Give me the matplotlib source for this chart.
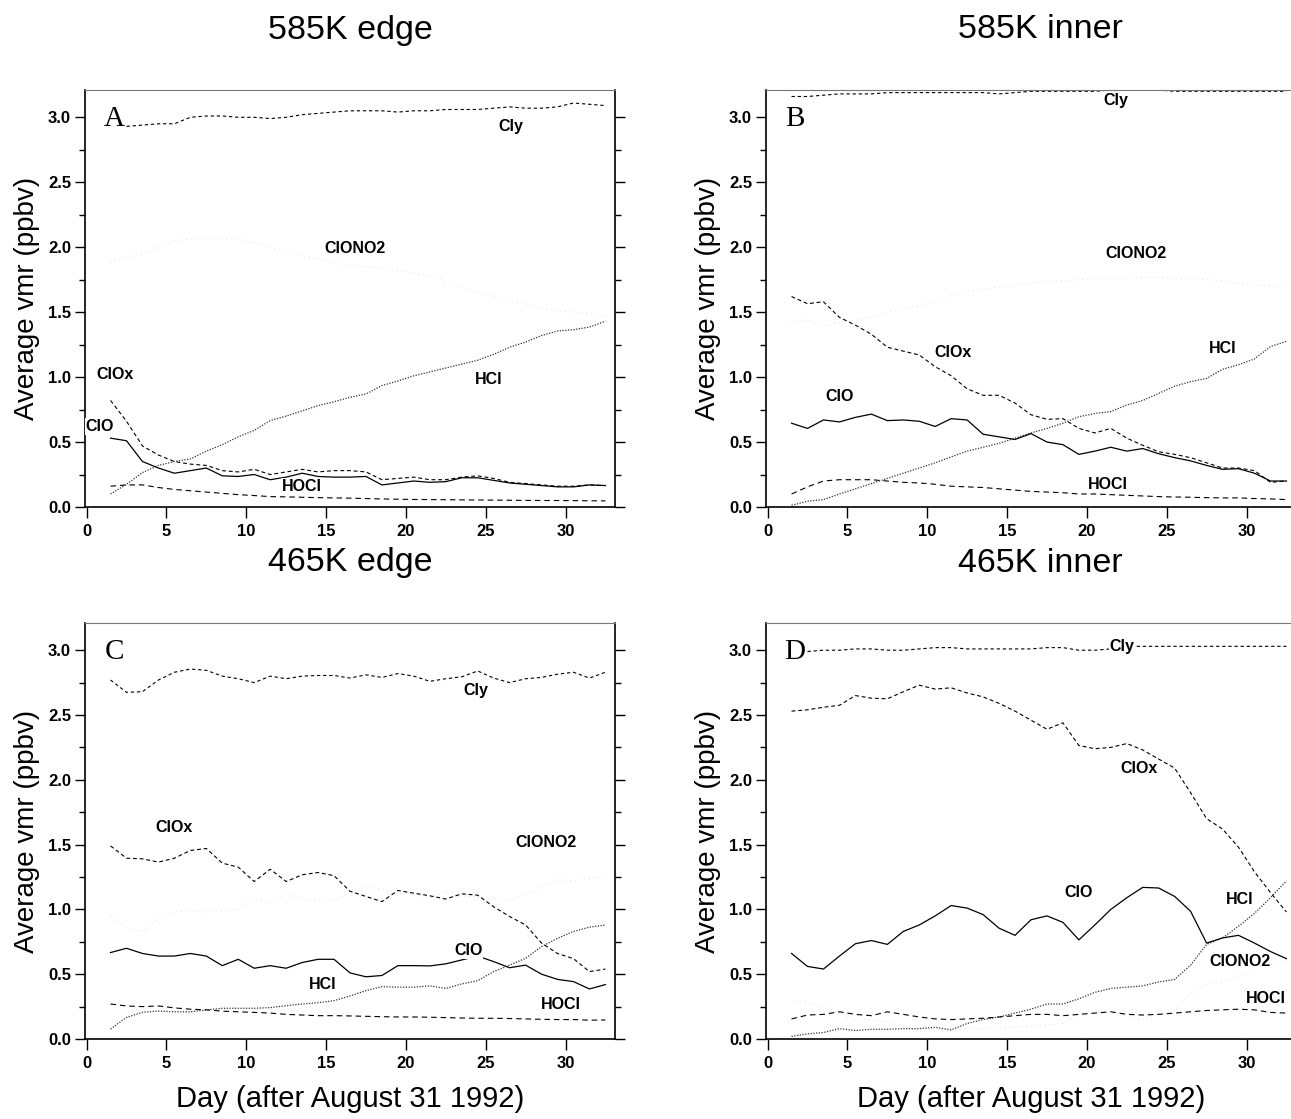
import numpy as np
import matplotlib.pyplot as plt

plt.rcParams['font.family'] = ['Liberation Sans', 'DejaVu Sans']

# days after Aug 31 1992, one value per day
days = np.arange(1.5, 33.0, 1.0)
nan = np.nan

# panel A: 585K edge
a_cly = [nan, 2.93, 2.94, 2.95, 2.95, 3.00, 3.01, 3.01, 3.00, 3.00, 2.99, 3.00, 3.02, 3.03, 3.04, 3.05,
         3.05, 3.05, 3.04, 3.05, 3.05, 3.06, 3.06, 3.06, 3.07, 3.08, 3.07, 3.07, 3.08, 3.11, 3.10, 3.09]
a_clono2 = [1.88, 1.92, 1.95, 2.00, 2.05, 2.06, 2.07, 2.07, 2.06, 2.03, 2.00, 1.97, 1.93, 1.91, 1.88, 1.86,
            1.85, 1.84, 1.82, 1.80, 1.78, 1.74, 1.69, 1.65, 1.62, 1.59, 1.56, 1.53, 1.51, 1.50, 1.49, 1.47]
a_clox = [0.82, 0.66, 0.47, 0.40, 0.35, 0.33, 0.32, 0.28, 0.27, 0.29, 0.25, 0.27, 0.29, 0.27, 0.28, 0.28,
          0.27, 0.21, 0.22, 0.23, 0.21, 0.21, 0.23, 0.24, 0.22, 0.19, 0.18, 0.17, 0.16, 0.16, 0.17, 0.165]
a_clo = [0.53, 0.51, 0.35, 0.30, 0.26, 0.28, 0.30, 0.24, 0.235, 0.25, 0.21, 0.23, 0.26, 0.235, 0.23, 0.23,
         0.235, 0.17, 0.185, 0.20, 0.19, 0.195, 0.225, 0.225, 0.205, 0.185, 0.175, 0.165, 0.155, 0.155, 0.17, 0.165]
a_hcl = [0.10, 0.175, 0.265, 0.32, 0.35, 0.37, 0.43, 0.48, 0.54, 0.59, 0.665, 0.70, 0.74, 0.78, 0.81, 0.845,
         0.87, 0.935, 0.97, 1.01, 1.04, 1.07, 1.10, 1.13, 1.175, 1.23, 1.27, 1.32, 1.355, 1.365, 1.385, 1.43]
a_hocl = [0.16, 0.17, 0.17, 0.15, 0.135, 0.125, 0.115, 0.105, 0.095, 0.088, 0.08, 0.078, 0.075, 0.072, 0.07, 0.068,
          0.065, 0.062, 0.06, 0.058, 0.057, 0.056, 0.055, 0.054, 0.053, 0.052, 0.051, 0.05, 0.05, 0.049, 0.048, 0.047]

# panel B: 585K inner
b_cly = [3.16, 3.16, 3.17, 3.18, 3.18, 3.18, 3.19, 3.19, 3.19, 3.19, 3.19, 3.19, 3.19, 3.18, 3.19, 3.20,
         3.20, 3.20, 3.20, 3.20, 3.21, 3.21, 3.21, 3.21, 3.20, 3.20, 3.20, 3.20, 3.20, 3.20, 3.20, 3.20]
b_clono2 = [1.43, 1.44, 1.39, 1.42, 1.44, 1.46, 1.50, 1.53, 1.55, 1.59, 1.63, 1.66, 1.68, 1.69, 1.71, 1.72,
            1.74, 1.74, 1.75, 1.76, 1.76, 1.76, 1.77, 1.77, 1.76, 1.76, 1.75, 1.74, 1.72, 1.71, 1.70, 1.69]
b_clox = [1.62, 1.565, 1.58, 1.46, 1.40, 1.33, 1.23, 1.20, 1.17, 1.08, 1.01, 0.91, 0.86, 0.86, 0.80, 0.71,
          0.675, 0.68, 0.605, 0.57, 0.605, 0.53, 0.475, 0.425, 0.405, 0.38, 0.34, 0.30, 0.30, 0.28, 0.19, 0.20]
b_clo = [0.645, 0.605, 0.67, 0.655, 0.69, 0.715, 0.665, 0.67, 0.66, 0.62, 0.68, 0.67, 0.56, 0.54, 0.52, 0.565,
         0.50, 0.48, 0.405, 0.43, 0.46, 0.43, 0.45, 0.41, 0.38, 0.355, 0.32, 0.29, 0.295, 0.26, 0.20, 0.20]
b_hcl = [0.013, 0.044, 0.057, 0.10, 0.14, 0.18, 0.22, 0.26, 0.30, 0.34, 0.386, 0.43, 0.46, 0.49, 0.53, 0.57,
         0.605, 0.645, 0.695, 0.72, 0.735, 0.785, 0.82, 0.875, 0.93, 0.965, 0.99, 1.06, 1.095, 1.14, 1.235, 1.275]
b_hocl = [0.10, 0.155, 0.20, 0.21, 0.21, 0.21, 0.20, 0.19, 0.185, 0.175, 0.16, 0.155, 0.15, 0.14, 0.13, 0.12,
          0.115, 0.11, 0.10, 0.10, 0.095, 0.09, 0.085, 0.08, 0.077, 0.075, 0.072, 0.07, 0.07, 0.065, 0.062, 0.057]

# panel C: 465K edge
c_cly = [2.77, 2.675, 2.68, 2.77, 2.83, 2.855, 2.845, 2.80, 2.78, 2.75, 2.80, 2.78, 2.80, 2.805, 2.805, 2.785,
         2.81, 2.79, 2.82, 2.80, 2.76, 2.78, 2.795, 2.84, 2.785, 2.75, 2.78, 2.79, 2.815, 2.83, 2.785, 2.83]
c_clono2 = [0.95, 0.86, 0.83, 0.93, 0.98, 0.99, 0.98, 0.99, 1.00, 1.09, 1.05, 1.12, 1.08, 1.07, 1.07, 1.12,
            1.17, 1.16, 1.12, 1.12, 1.09, 1.14, 1.10, 1.10, 1.09, 1.07, 1.12, 1.17, 1.23, 1.22, 1.24, 1.26]
c_clox = [1.49, 1.395, 1.39, 1.365, 1.395, 1.455, 1.47, 1.357, 1.326, 1.215, 1.31, 1.215, 1.267, 1.285, 1.26, 1.14,
          1.10, 1.06, 1.146, 1.125, 1.105, 1.08, 1.12, 1.11, 1.02, 0.945, 0.88, 0.74, 0.66, 0.62, 0.52, 0.54]
c_clo = [0.667, 0.70, 0.66, 0.64, 0.64, 0.66, 0.64, 0.566, 0.615, 0.546, 0.566, 0.546, 0.59, 0.615, 0.615, 0.51,
         0.48, 0.49, 0.566, 0.566, 0.564, 0.58, 0.61, 0.64, 0.597, 0.55, 0.57, 0.50, 0.46, 0.443, 0.386, 0.42]
c_hcl = [0.077, 0.167, 0.206, 0.216, 0.21, 0.21, 0.224, 0.237, 0.237, 0.237, 0.242, 0.257, 0.27, 0.28, 0.296, 0.332,
         0.373, 0.404, 0.40, 0.40, 0.41, 0.39, 0.425, 0.45, 0.52, 0.57, 0.623, 0.713, 0.777, 0.83, 0.863, 0.88]
c_hocl = [0.27, 0.255, 0.25, 0.255, 0.24, 0.23, 0.225, 0.215, 0.21, 0.205, 0.20, 0.19, 0.185, 0.18, 0.18, 0.178,
          0.175, 0.172, 0.17, 0.17, 0.168, 0.165, 0.162, 0.16, 0.16, 0.158, 0.155, 0.152, 0.15, 0.15, 0.145, 0.147]

# panel D: 465K inner
d_cly = [nan, 2.99, 3.00, 3.00, 3.01, 3.01, 3.00, 3.00, 3.01, 3.02, 3.02, 3.01, 3.01, 3.01, 3.01, 3.01,
         3.02, 3.02, 3.00, 3.00, 3.01, 3.03, 3.03, 3.03, 3.03, 3.03, 3.03, 3.03, 3.03, 3.03, 3.03, 3.03]
d_clono2 = [0.30, 0.28, 0.25, 0.20, 0.15, 0.15, 0.13, 0.10, 0.06, 0.07, 0.06, 0.08, 0.08, 0.09, 0.09, 0.10,
            0.11, 0.12, 0.20, 0.20, 0.20, 0.18, 0.15, 0.19, 0.22, 0.35, 0.42, 0.45, 0.49, 0.53, 0.57, 0.61]
d_clox = [2.53, 2.54, 2.56, 2.575, 2.65, 2.63, 2.625, 2.68, 2.73, 2.70, 2.71, 2.67, 2.64, 2.59, 2.53, 2.46,
          2.39, 2.44, 2.265, 2.24, 2.25, 2.28, 2.23, 2.16, 2.09, 1.90, 1.70, 1.62, 1.48, 1.29, 1.13, 0.98]
d_clo = [0.66, 0.56, 0.54, 0.64, 0.735, 0.76, 0.73, 0.83, 0.88, 0.95, 1.03, 1.01, 0.96, 0.855, 0.80, 0.92,
         0.95, 0.90, 0.765, 0.88, 1.00, 1.09, 1.17, 1.165, 1.10, 0.985, 0.74, 0.78, 0.80, 0.74, 0.675, 0.62]
d_hcl = [0.02, 0.04, 0.05, 0.08, 0.065, 0.075, 0.075, 0.08, 0.08, 0.09, 0.07, 0.12, 0.15, 0.17, 0.20, 0.23,
         0.27, 0.27, 0.31, 0.36, 0.39, 0.40, 0.41, 0.44, 0.46, 0.57, 0.73, 0.78, 0.87, 0.97, 1.09, 1.22]
d_hocl = [0.155, 0.185, 0.19, 0.21, 0.19, 0.18, 0.21, 0.19, 0.17, 0.155, 0.15, 0.155, 0.16, 0.17, 0.18, 0.19,
          0.19, 0.18, 0.19, 0.20, 0.21, 0.19, 0.185, 0.19, 0.20, 0.21, 0.22, 0.225, 0.23, 0.225, 0.205, 0.20]

titles = ["585K edge", "585K inner", "465K edge", "465K inner"]
letters = ["A", "B", "C", "D"]

# label positions (day, vmr) for the species names
labels_a = {"Cly": (26.6, 2.93), "ClONO2": (16.8, 1.99), "ClOx": (1.75, 1.02), "HCl": (25.2, 0.98),
            "ClO": (0.8, 0.62), "HOCl": (13.5, 0.16)}
labels_b = {"Cly": (21.8, 3.13), "ClONO2": (23.1, 1.95), "ClOx": (11.6, 1.19), "HCl": (28.5, 1.22),
            "ClO": (4.5, 0.85), "HOCl": (21.3, 0.17)}
labels_c = {"Cly": (24.4, 2.69), "ClONO2": (28.8, 1.52), "ClOx": (5.5, 1.63), "HCl": (14.8, 0.42),
            "ClO": (23.9, 0.68), "HOCl": (29.7, 0.27)}
labels_d = {"Cly": (22.2, 3.03), "ClONO2": (29.6, 0.60), "ClOx": (23.25, 2.09), "HCl": (29.6, 1.08),
            "ClO": (19.5, 1.13), "HOCl": (31.2, 0.31)}

panels = [
    (a_cly, a_clono2, a_clox, a_clo, a_hcl, a_hocl, labels_a),
    (b_cly, b_clono2, b_clox, b_clo, b_hcl, b_hocl, labels_b),
    (c_cly, c_clono2, c_clox, c_clo, c_hcl, c_hocl, labels_c),
    (d_cly, d_clono2, d_clox, d_clo, d_hcl, d_hocl, labels_d),
]

W, H = 1291, 1119
fig = plt.figure(figsize=(W / 100, H / 100), dpi=100)

# axes boxes in pixels: left, top, width, height (right panels run off the page like the scan)
boxes = [(85, 90, 530, 417), (766, 90, 530, 417), (85, 623, 530, 416), (766, 623, 530, 416)]

for i, (cly, clono2, clox, clo, hcl, hocl, labs) in enumerate(panels):
    l, t, w, h = boxes[i]
    ax = fig.add_axes([l / W, (H - t - h) / H, w / W, h / H])

    ax.plot(days, clono2, color="#e6e6e6", lw=0.8, ls=(0, (1, 3)))
    ax.plot(days, cly, color="black", lw=0.8, ls=(0, (3, 2.5)))
    ax.plot(days, clox, color="black", lw=0.8, ls=(0, (3.5, 2.5)))
    ax.plot(days, hcl, color="#333333", lw=0.9, ls=(0, (1, 1.2)))
    ax.plot(days, clo, color="black", lw=0.9, ls="-")
    ax.plot(days, hocl, color="black", lw=0.8, ls=(0, (5, 3.5)))

    for name, (x, y) in labs.items():
        ax.text(x, y, name, fontsize=11.5, fontweight="bold", ha="center", va="center",
                bbox=dict(facecolor="white", edgecolor="none", pad=0.5))
    ax.text(0.055, 0.93, letters[i], transform=ax.transAxes, fontsize=21,
            family="Liberation Serif", ha="center", va="center",
            bbox=dict(facecolor="white", edgecolor="none", pad=1))

    ax.set_xlim(-0.1, 33.1)
    ax.set_ylim(0, 3.21)
    ax.set_xticks([0, 5, 10, 15, 20, 25, 30])
    ax.set_yticks([0.0, 0.5, 1.0, 1.5, 2.0, 2.5, 3.0])
    ax.set_yticks(np.arange(0.25, 3.2, 0.5), minor=True)
    ax.set_yticklabels(["0.0", "0.5", "1.0", "1.5", "2.0", "2.5", "3.0"])
    ax.tick_params(axis="y", which="major", direction="out", length=7, width=1,
                   left=True, right=True, labelsize=12, pad=3)
    ax.tick_params(axis="y", which="minor", direction="out", length=4, width=1, left=True, right=True)
    ax.tick_params(axis="x", direction="out", length=8, width=1, labelsize=12, pad=4)
    for lab in ax.get_xticklabels() + ax.get_yticklabels():
        lab.set_fontweight("bold")
    for side in ["left", "bottom", "right"]:
        ax.spines[side].set_linewidth(1.2)
    ax.spines["top"].set_linewidth(0.8)
    ax.spines["top"].set_color("#777777")

    ax.set_ylabel("Average vmr (ppbv)", fontsize=20, labelpad=6)
    if i >= 2:
        ax.set_xlabel("Day (after August 31 1992)", fontsize=21, labelpad=10)

# panel titles
fig.text(350 / W, 1 - 30 / H, titles[0], fontsize=24.5, ha="center", va="center")
fig.text(1040 / W, 1 - 30 / H, titles[1], fontsize=24.5, ha="center", va="center")
fig.text(350 / W, 1 - 563 / H, titles[2], fontsize=24.5, ha="center", va="center")
fig.text(1040 / W, 1 - 563 / H, titles[3], fontsize=24.5, ha="center", va="center")

fig.savefig("out.png", dpi=100)
